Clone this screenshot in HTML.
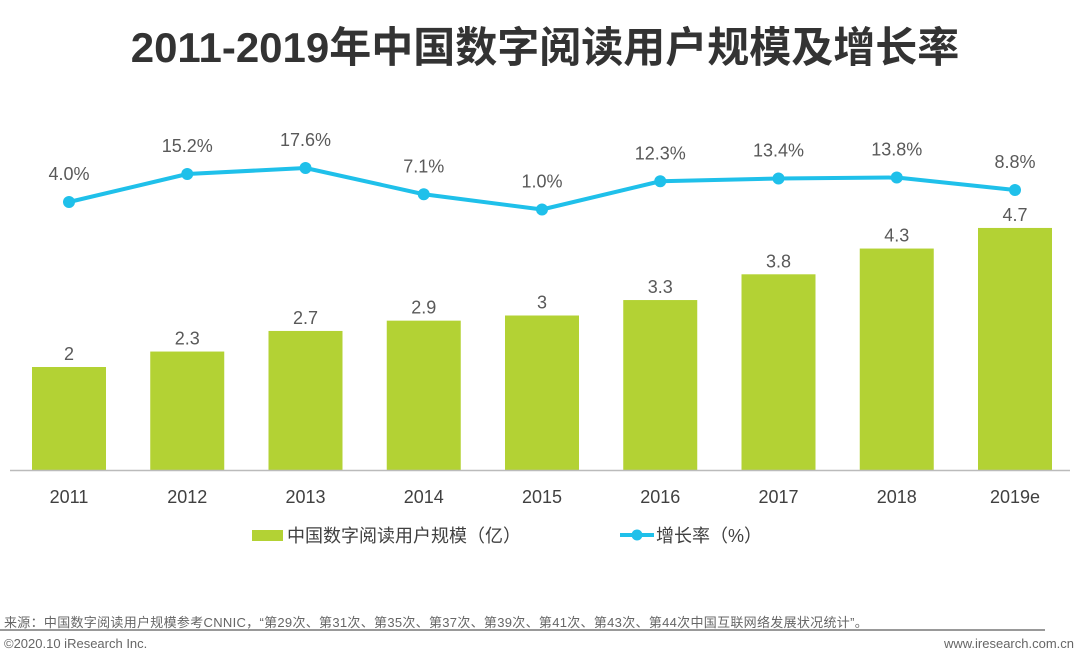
<!DOCTYPE html>
<html><head><meta charset="utf-8"><style>
html,body{margin:0;padding:0;background:#fff;}
body{width:1080px;height:664px;overflow:hidden;position:relative;font-family:"Liberation Sans","Noto Sans CJK SC",sans-serif;}
.t{position:absolute;white-space:nowrap;}
</style></head><body>
<div class="t" style="left:0;width:1090px;top:14px;text-align:center;font-size:42px;font-weight:bold;color:#333;font-family:'Liberation Sans','Noto Sans CJK SC',sans-serif;">2011-2019年中国数字阅读用户规模及增长率</div>
<svg id="chart" width="1080" height="664" style="position:absolute;left:0;top:0" xmlns="http://www.w3.org/2000/svg"></svg>
<div class="t" style="left:4px;top:612px;font-size:13px;color:#666;letter-spacing:0.3px;">来源：中国数字阅读用户规模参考CNNIC，“第29次、第31次、第35次、第37次、第39次、第41次、第43次、第44次中国互联网络发展状况统计”。</div>
<div style="position:absolute;left:0;top:629px;width:1045px;height:2px;background:#999;"></div>
<div class="t" style="left:4px;top:636px;font-size:13px;color:#666;">©2020.10 iResearch Inc.</div>
<div class="t" style="right:6px;top:636px;font-size:13px;color:#666;">www.iresearch.com.cn</div>
<script>
const categories=["2011","2012","2013","2014","2015","2016","2017","2018","2019e"];
const users=[2,2.3,2.7,2.9,3,3.3,3.8,4.3,4.7];
const userLabels=["2","2.3","2.7","2.9","3","3.3","3.8","4.3","4.7"];
const growth=[4.0,15.2,17.6,7.1,1.0,12.3,13.4,13.8,8.8];
const growthLabels=["4.0%","15.2%","17.6%","7.1%","1.0%","12.3%","13.4%","13.8%","8.8%"];
const legendLabels=["中国数字阅读用户规模（亿）","增长率（%）"];

const svg=document.getElementById('chart');
const NS='http://www.w3.org/2000/svg';
function mk(tag,attrs,parent){const e=document.createElementNS(NS,tag);for(const k in attrs)e.setAttribute(k,attrs[k]);(parent||svg).appendChild(e);return e;}
const baseY=470;
function xPos(i){return 69+i*118.25;}
function yBar(v){return baseY-v*51.5;}
function yLine(v){return 212-v*2.5;}
const font="'Liberation Sans','Noto Sans CJK SC',sans-serif";
const green="#b3d234", blue="#1fc0ea", txt="#595959";

users.forEach((v,i)=>{
  const r=mk('rect',{x:xPos(i)-37,y:yBar(v),width:74,height:baseY-yBar(v),fill:green});
  
  
  const t=mk('text',{x:xPos(i),y:yBar(v)-7,'text-anchor':'middle','font-size':18,fill:txt,'font-family':font});
  t.textContent=userLabels[i];
  
  
  const c=mk('text',{x:xPos(i),y:503,'text-anchor':'middle','font-size':18,fill:'#404040','font-family':font});
  c.textContent=categories[i];
  
  
});
const ax=mk('line',{x1:10,x2:1070,y1:baseY+0.5,y2:baseY+0.5,stroke:'#bbb','stroke-width':1.5});



const pl=mk('polyline',{points:growth.map((v,i)=>xPos(i)+','+yLine(v)).join(' '),fill:'none',stroke:blue,'stroke-width':4,'stroke-linejoin':'round'});


growth.forEach((v,i)=>{
  const c=mk('circle',{cx:xPos(i),cy:yLine(v),r:6,fill:blue});
  
  
  const t=mk('text',{x:xPos(i),y:yLine(v)-22,'text-anchor':'middle','font-size':18,fill:txt,'font-family':font});
  t.textContent=growthLabels[i];
  
  
});

const lg1=mk('rect',{x:252,y:530,width:31,height:11,fill:green});


const lt1=mk('text',{x:287,y:542,'font-size':18,fill:'#404040','font-family':font});
lt1.textContent=legendLabels[0];


const lg2=mk('line',{x1:620,x2:654,y1:535,y2:535,stroke:blue,'stroke-width':4});


const lg2c=mk('circle',{cx:637,cy:535,r:5.5,fill:blue});


const lt2=mk('text',{x:656,y:542,'font-size':18,fill:'#404040','font-family':font});
lt2.textContent=legendLabels[1];


</script>
</body></html>
